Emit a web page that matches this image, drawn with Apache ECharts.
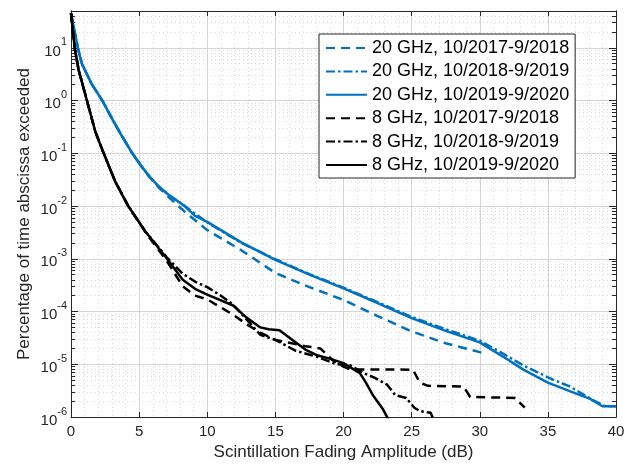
<!DOCTYPE html>
<html>
<head>
<meta charset="utf-8">
<script src="https://cdn.jsdelivr.net/npm/echarts@6/dist/echarts.min.js"></script>
<style>html,body{margin:0;background:#fff}#chart{width:631px;height:466px}</style>
</head>
<body>
<div id="chart"></div>
<script>
// curves: [fading amplitude (dB), percentage of time]
const ghz20_1718 = [[0,45],[0.5,10],[0.8,5],[1.5,2.1],[2.3,1],[3,0.46],[3.7,0.22],[4.5,0.1],[5.1,0.06],[5.7,0.037],[6.4,0.023],[7.2,0.0145],[8.3,8e-3],[10,3.5e-3],[12.5,1.45e-3],[15,5.4e-4],[17.5,2.9e-4],[20,1.66e-4],[22.5,8.2e-5],[25,4.2e-5],[27.5,2.5e-5],[30,1.7e-5],[30.5,1.6e-5]];
const ghz20_1819 = [[0,45],[0.5,10],[0.8,5],[1.5,2.1],[2.3,1],[3,0.46],[3.7,0.22],[4.5,0.1],[5.1,0.06],[5.7,0.038],[6.4,0.024],[7.2,0.016],[8.3,0.0102],[10,4.9e-3],[12.5,2.0e-3],[15,9.8e-4],[17.5,5.1e-4],[20,2.85e-4],[22.5,1.5e-4],[25,7.9e-5],[27.5,4.6e-5],[30,2.8e-5],[31.7,1.6e-5],[33.2,9.5e-6],[35.3,5.2e-6],[36.6,3.8e-6],[38.3,2.1e-6],[39.2,1.6e-6],[40,1.6e-6]];
const ghz20_1920 = [[0,45],[0.5,10],[0.8,5],[1.5,2.1],[2.3,1],[3,0.46],[3.7,0.22],[4.5,0.1],[5.1,0.06],[5.7,0.038],[6.4,0.024],[7.2,0.016],[8.3,0.0102],[9.1,6.5e-3],[10,5e-3],[12.5,2.05e-3],[15,9.5e-4],[17.5,5e-4],[20,2.75e-4],[22.5,1.45e-4],[25,7.5e-5],[27.5,4.3e-5],[30,2.6e-5],[31.7,1.4e-5],[33.2,7.9e-6],[35,4.5e-6],[36.6,3.1e-6],[38.1,2.2e-6],[39,1.6e-6],[40,1.6e-6]];
const ghz8_1718 = [[0,45],[0.27,10],[0.56,3.8],[1.17,1],[1.78,0.26],[2.4,0.1],[3.25,0.029],[4.2,0.01],[5.46,3.2e-3],[7.05,9e-4],[8.2,3e-4],[9.1,2e-4],[10,1.7e-4],[11.9,8.7e-5],[13,5.5e-5],[13.9,4e-5],[15,2.9e-5],[16.2,2.5e-5],[17.2,2.2e-5],[18.3,2e-5],[19.2,1.2e-5],[20,9e-6],[20.5,8e-6],[25.1,7.9e-6],[25.6,4.5e-6],[26.2,3.9e-6],[28.8,3.8e-6],[29.3,2.4e-6],[32.6,2.3e-6],[33.3,1.5e-6]];
const ghz8_1819 = [[0,45],[0.27,10],[0.56,3.8],[1.17,1],[1.78,0.26],[2.4,0.1],[3.25,0.029],[4.2,0.01],[5.46,3.3e-3],[7.05,1.05e-3],[8.2,5.2e-4],[9.1,3.7e-4],[10,2.9e-4],[11,2e-4],[11.9,1.35e-4],[12.8,7.5e-5],[13.9,3.6e-5],[15,2.9e-5],[16.5,1.8e-5],[18,1.4e-5],[19.5,1e-5],[20.5,9.5e-6],[21.5,6.8e-6],[22.3,5.5e-6],[23.2,4.1e-6],[23.8,2.6e-6],[24.6,2.3e-6],[25.2,1.5e-6],[25.6,1.3e-6],[26.4,1.2e-6],[26.6,9e-7]];
const ghz8_1920 = [[0,45],[0.27,10],[0.56,3.8],[1.17,1],[1.78,0.26],[2.4,0.1],[3.25,0.029],[4.2,0.01],[5.46,3.3e-3],[7.05,1e-3],[8.2,4e-4],[9.1,2.7e-4],[10,2.1e-4],[11.9,1.3e-4],[12.8,8e-5],[13.9,5e-5],[14.5,4.6e-5],[15.3,4.4e-5],[16.5,2.6e-5],[17.2,1.9e-5],[18,1.5e-5],[19.1,1.25e-5],[20,1.05e-5],[21.2,6.8e-6],[21.6,4.7e-6],[22.2,2.5e-6],[22.9,1.4e-6],[23.4,8e-7]];

const seriesNames = ['20 GHz, 10/2017-9/2018', '20 GHz, 10/2018-9/2019', '20 GHz, 10/2019-9/2020',
  '8 GHz, 10/2017-9/2018', '8 GHz, 10/2018-9/2019', '8 GHz, 10/2019-9/2020'];
const seriesData = [ghz20_1718, ghz20_1819, ghz20_1920, ghz8_1718, ghz8_1819, ghz8_1920];

// y decades shown and the 2..9 minor steps of the log grid
const decades = [-6, -5, -4, -3, -2, -1, 0, 1];
const minorSteps = [2, 3, 4, 5, 6, 7, 8, 9];
const yMin = 1e-6, yMax = 50;

const minorVals = [];
decades.forEach(d => minorSteps.forEach(k => {
  const v = k * Math.pow(10, d);
  if (v < yMax) minorVals.push(v);
}));

const BLUE = '#0072BD', BLACK = '#000000', AX = '#262626';
const FONT = 'Liberation Sans, Arial, Helvetica, sans-serif';
const dashes = [[9, 6], [9, 3, 2.5, 3], 'solid'];

const chart = echarts.init(document.getElementById('chart'), null, { renderer: 'canvas' });

const baseY = {
  type: 'log', logBase: 10, min: yMin, max: yMax,
  axisLine: { show: true, lineStyle: { color: AX, width: 1 } },
  axisLabel: { show: false },
  splitLine: { show: false }
};

const option = {
  animation: false,
  backgroundColor: '#fff',
  grid: { left: 71, right: 15, top: 11, bottom: 49 },
  legend: {
    orient: 'vertical', left: 319, top: 34,
    backgroundColor: '#fff', borderColor: AX, borderWidth: 1,
    padding: [4, 6, 3, 6], itemGap: 3.4, itemWidth: 41, itemHeight: 14,
    itemStyle: { opacity: 0 },
    textStyle: { fontSize: 18, fontFamily: FONT, color: '#000', lineHeight: 20 },
    data: seriesNames
  },
  xAxis: [{
    type: 'value', min: 0, max: 40, interval: 5, position: 'bottom',
    name: 'Scintillation Fading Amplitude (dB)', nameLocation: 'middle', nameGap: 27,
    nameTextStyle: { fontSize: 17, fontFamily: FONT, color: AX },
    axisLine: { lineStyle: { color: AX, width: 1 } },
    axisTick: { inside: true, length: 5, lineStyle: { color: AX } },
    axisLabel: { margin: 7, fontSize: 15, fontFamily: FONT, color: AX },
    splitLine: { show: true, lineStyle: { color: '#d4d4d4', width: 1 } },
    minorTick: { show: false, splitNumber: 5 },
    minorSplitLine: { show: true, lineStyle: { color: '#dadada', width: 1, type: [1, 3] } }
  }, {
    type: 'value', min: 0, max: 40, interval: 5, position: 'top',
    axisLine: { lineStyle: { color: AX, width: 1 } },
    axisTick: { inside: true, length: 5, lineStyle: { color: AX } },
    axisLabel: { show: false }, splitLine: { show: false }
  }],
  yAxis: [Object.assign({}, baseY, {
    position: 'left',
    name: 'Percentage of time abscissa exceeded', nameLocation: 'middle', nameGap: 38,
    nameMoveOverlap: false,
    nameTextStyle: { fontSize: 17, fontFamily: FONT, color: AX },
    axisTick: { inside: true, length: 7, lineStyle: { color: AX } },
    axisLabel: {
      show: true, margin: 4, showMaxLabel: false, fontFamily: FONT, color: AX,
      formatter: v => '{b|10}{s|' + Math.round(Math.log10(v)) + '}',
      rich: {
        b: { fontSize: 15, lineHeight: 22, verticalAlign: 'bottom', fontFamily: FONT, color: AX },
        s: { fontSize: 11, lineHeight: 11, verticalAlign: 'top', fontFamily: FONT, color: AX }
      }
    },
    splitLine: { show: true, lineStyle: { color: '#d4d4d4', width: 1 } }
  }), Object.assign({}, baseY, {
    position: 'left',
    axisTick: { inside: true, length: 4, customValues: minorVals, lineStyle: { color: AX } },
    splitLine: { show: true, lineStyle: { color: '#dadada', width: 1, type: [1, 3] } }
  }), Object.assign({}, baseY, {
    position: 'right',
    axisTick: { inside: true, length: 7, lineStyle: { color: AX } }
  }), Object.assign({}, baseY, {
    position: 'right',
    axisTick: { inside: true, length: 4, customValues: minorVals, lineStyle: { color: AX } }
  })],
  series: seriesData.map((d, i) => ({
    name: seriesNames[i], type: 'line', data: d, xAxisIndex: 0, yAxisIndex: 0,
    symbol: 'none', clip: true,
    lineStyle: { color: i < 3 ? BLUE : BLACK, width: 2.5, type: dashes[i % 3] },
    itemStyle: { color: i < 3 ? BLUE : BLACK }
  }))
};

chart.setOption(option);
</script>
</body>
</html>
